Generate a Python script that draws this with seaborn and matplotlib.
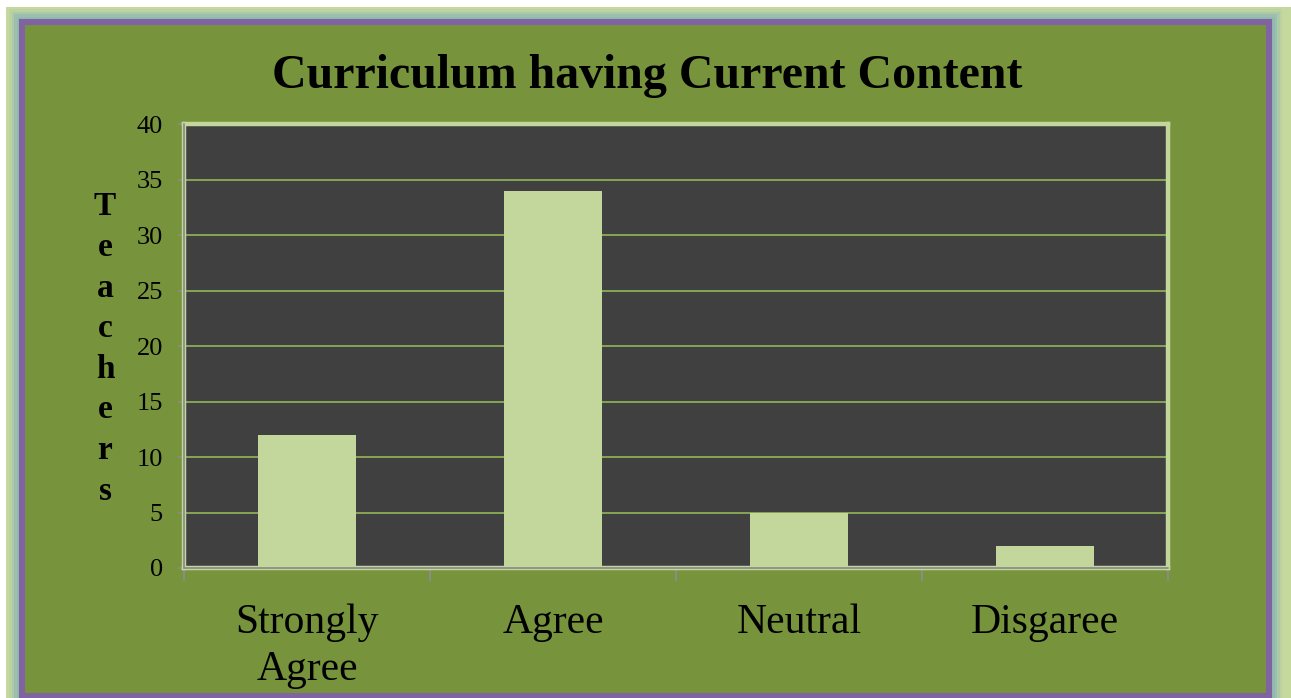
import matplotlib
matplotlib.use("Agg")
import matplotlib.pyplot as plt
from matplotlib.patches import Rectangle
import seaborn as sns
import pandas as pd

categories = ["Strongly\nAgree", "Agree", "Neutral", "Disgaree"]
teachers = [12, 34, 5, 2]
y_ticks = [0, 5, 10, 15, 20, 25, 30, 35, 40]
title = "Curriculum having Current Content"
ylabel = "T\ne\na\nc\nh\ne\nr\ns"

W, H = 1291, 698
sns.set_theme(style="white")
plt.rcParams['font.family'] = ['Liberation Serif', 'DejaVu Serif']

fig = plt.figure(figsize=(W / 100, H / 100), dpi=100)
fig.patch.set_facecolor("#C5D89E")

def px_rect(x0, y0, x1, y1, **kw):
    return Rectangle((x0 / W, 1 - y1 / H), (x1 - x0) / W, (y1 - y0) / H,
                     transform=fig.transFigure, **kw)

# white strips top/left
fig.patches.append(px_rect(0, 0, W, 7, facecolor="white", edgecolor="none", zorder=0))
fig.patches.append(px_rect(0, 0, 6, H, facecolor="white", edgecolor="none", zorder=0))
# teal glow
for i, a in enumerate([0.15, 0.3, 0.5, 0.7]):
    d = 10 - 2.5 * i
    fig.patches.append(px_rect(19 - d, 19 - d, 1272 + d, H + 20, facecolor="#8DB8B4",
                               edgecolor="none", alpha=a, zorder=0.5))
# purple frame with olive fill
fig.patches.append(px_rect(22, 22, 1269, 696, facecolor="#77933C", edgecolor="#8064A2",
                           linewidth=4.4, zorder=1))

ax = fig.add_axes([184 / W, 1 - 568 / H, 984 / W, 444 / H])
ax.set_zorder(2)
df = pd.DataFrame({"cat": categories, "val": teachers})
sns.barplot(data=df, x="cat", y="val", color="#C3D69B", saturation=1, width=0.395,
            edgecolor="none", ax=ax, zorder=3)
ax.set_facecolor("#404040")
ax.set_xlim(-0.5, 3.5)
ax.set_ylim(0, 40)
ax.set_yticks(y_ticks)
ax.set_yticklabels([str(v) for v in y_ticks], fontsize=19, color="black")
ax.yaxis.grid(True, color="#93B658", linewidth=1.2, zorder=1)
ax.set_axisbelow(True)
ax.tick_params(axis="y", length=4.3, width=1.1, color="#8C8C8C", pad=11, left=True)

# x tick labels: align first-line baselines by padding single-line labels with an empty 2nd line
disp_labels = [c if "\n" in c else c + "\n" for c in categories]
ax.set_xticks(range(len(categories)))
ax.set_xticklabels(disp_labels)
ax.tick_params(axis="x", which="major", length=0, pad=80.5, labelsize=30, labelcolor="black")
for lab in ax.get_xticklabels():
    lab.set_linespacing(1.27)
    lab.set_verticalalignment("baseline")
ax.set_xticks([-0.5, 0.5, 1.5, 2.5, 3.5], minor=True)
ax.tick_params(axis="x", which="minor", length=9, width=1.4, color="#8C8C8C", bottom=True)

for s in ax.spines.values():
    s.set_color("#C3D69B")
    s.set_linewidth(3.2)
ax.plot([0, 0], [0, 1], transform=ax.transAxes, color="#8C8C8C", lw=1.3, clip_on=False, zorder=5)
ax.plot([0, 1], [0, 0], transform=ax.transAxes, color="#8C8C8C", lw=1.3, clip_on=False, zorder=5)

ax.set_xlabel("")
ax.set_ylabel(ylabel, rotation=0, fontsize=24, fontweight="bold", linespacing=1.4,
              va="center", ha="center", color="black")
ax.yaxis.set_label_coords((105 - 184) / 984, (568 - 349) / 444)

fig.text(647 / W, 1 - 88 / H, title, ha="center", va="baseline", fontsize=34.5,
         fontweight="bold", color="black")

fig.savefig("out.png", dpi=100, facecolor=fig.get_facecolor())
